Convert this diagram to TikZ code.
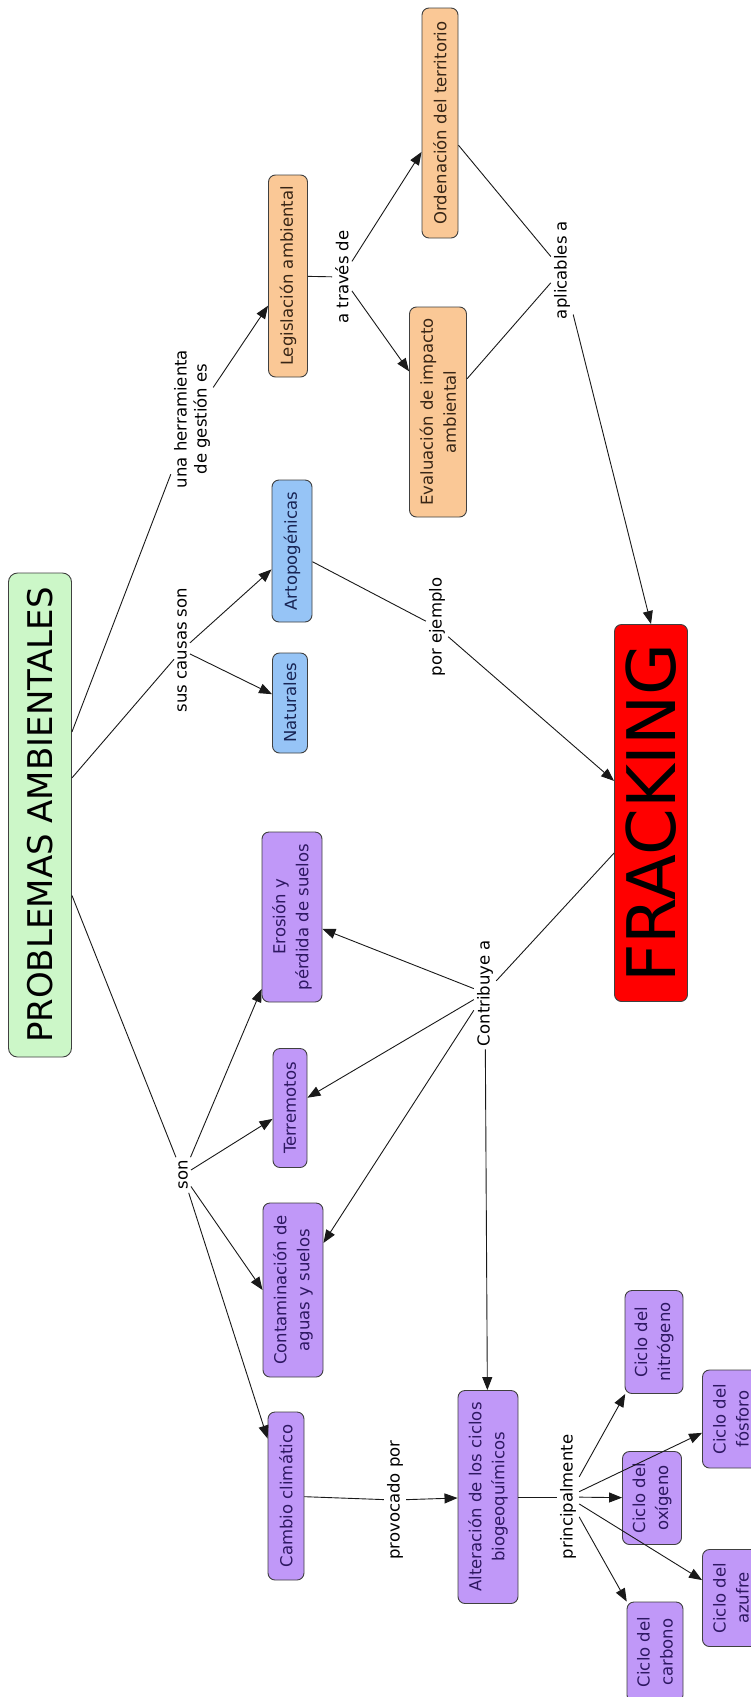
\documentclass[tikz,border=0pt]{standalone}
\usepackage{fontspec}
\setmainfont{DejaVu Sans}
\usetikzlibrary{arrows.meta}

\definecolor{probfill}{RGB}{204,247,200}
\definecolor{causefill}{RGB}{150,196,246}
\definecolor{toolfill}{RGB}{250,200,150}
\definecolor{effectfill}{RGB}{192,152,248}
\definecolor{effecttext}{RGB}{46,24,98}
\definecolor{causetext}{RGB}{24,36,84}
\definecolor{tooltext}{RGB}{56,38,22}

\begin{document}
\begin{tikzpicture}[x=1pt,y=-1pt]
    % settings for the whole map
    \tikzset{
      >={Triangle[length=13pt,width=10pt]},
      every edge/.style={draw, line width=0.9pt, black!90},
      concept/.style={draw=black!75, line width=0.9pt, rounded corners=7pt,
        rotate=90, align=center, inner sep=2pt,
        font=\fontsize{16.5}{23}\selectfont},
      probbox/.style={concept, fill=probfill, rounded corners=9pt,
        font=\fontsize{34}{40}\selectfont},
      causebox/.style={concept, fill=causefill, text=causetext},
      toolbox/.style={concept, fill=toolfill, text=tooltext},
      effectbox/.style={concept, fill=effectfill, text=effecttext},
      frackbox/.style={concept, fill=red, inner sep=0pt,
        font=\fontsize{67}{70}\selectfont},
      linkword/.style={rotate=90, align=center, inner sep=3pt,
        font=\fontsize{16.5}{20}\selectfont},
    }

    \fill[white] (0,0) rectangle (751,1697);
    \useasboundingbox (0,0) rectangle (751,1697);

    % concepts
    \node[probbox, minimum width=484, minimum height=63] (prob) at (40,815) {PROBLEMAS AMBIENTALES};

    \node[causebox, minimum width=142, minimum height=40] (artop) at (292,551) {Artopogénicas};
    \node[causebox, minimum width=100, minimum height=35] (natur) at (290,703) {Naturales};

    \node[toolbox, minimum width=202, minimum height=39] (legis) at (288,276) {Legislación ambiental};
    \node[toolbox, minimum width=230, minimum height=36] (orden) at (440,123) {Ordenación del territorio};
    \node[toolbox, minimum width=210, minimum height=57] (evalu) at (438,412) {Evaluación de impacto\\ambiental};

    \node[frackbox, minimum width=377, minimum height=73] (frack) at (651,813) {FRACKING};

    \node[effectbox, minimum width=170, minimum height=60] (erosi) at (292,917) {Erosión y\\pérdida de suelos};
    \node[effectbox, minimum width=119, minimum height=34] (terre) at (290,1108) {Terremotos};
    \node[effectbox, minimum width=174, minimum height=60] (conta) at (293,1290) {Contaminación de\\aguas y suelos};
    \node[effectbox, minimum width=168, minimum height=36] (cambi) at (286,1496) {Cambio climático};
    \node[effectbox, minimum width=213, minimum height=60] (alter) at (488,1497) {Alteración de los ciclos\\biogeoquímicos};

    \node[effectbox, minimum width=103, minimum height=58] (nitro) at (654,1342) {Ciclo del\\nitrógeno};
    \node[effectbox, minimum width=98, minimum height=57] (fosfo) at (731,1419) {Ciclo del\\fósforo};
    \node[effectbox, minimum width=93, minimum height=59] (oxige) at (652,1498) {Ciclo del\\oxígeno};
    \node[effectbox, minimum width=97, minimum height=57] (azufr) at (731,1598) {Ciclo del\\azufre};
    \node[effectbox, minimum width=100, minimum height=56] (carbo) at (655,1652) {Ciclo del\\carbono};

    % linking words
    \node[linkword] (lherr) at (192,419) {una herramienta\\de gestión es};
    \node[linkword] (lcaus) at (182,650) {sus causas son};
    \node[linkword] (lson) at (183,1175) {son};
    \node[linkword] (ltrav) at (342,277) {a través de};
    \node[linkword] (lapli) at (562,270) {aplicables a};
    \node[linkword] (lejem) at (437,627) {por ejemplo};
    \node[linkword] (lcont) at (485,993) {Contribuye a};
    \node[linkword] (lprov) at (395,1500) {provocado por};
    \node[linkword] (lprin) at (568,1497) {principalmente};

    % connections
    \draw (prob) edge (lherr)
          (lherr) edge[->] (legis)
          (prob) edge (lcaus)
          (lcaus) edge[->] (artop)
          (lcaus) edge[->] (natur)
          (prob) edge (lson)
          (lson) edge[->] (erosi)
          (lson) edge[->] (terre)
          (lson) edge[->] (conta.north)
          (lson) edge[->] (cambi)
          (legis) edge (ltrav)
          (ltrav) edge[->] (orden)
          (ltrav) edge[->] (evalu)
          (orden) edge (lapli)
          (evalu) edge (lapli)
          (lapli) edge[->] (frack.east)
          (artop) edge (lejem)
          (lejem) edge[->] (frack)
          (frack) edge (lcont)
          (lcont) edge[->] (erosi)
          (lcont) edge[->] (terre)
          (lcont) edge[->] (conta)
          (lcont) edge[->] (alter)
          (cambi) edge (lprov)
          (lprov) edge[->] (alter)
          (alter) edge (lprin)
          (lprin) edge[->] (nitro)
          (lprin) edge[->] (fosfo)
          (lprin) edge[->] (oxige)
          (lprin) edge[->] (azufr)
          (lprin) edge[->] (carbo);

\end{tikzpicture}
\end{document}
